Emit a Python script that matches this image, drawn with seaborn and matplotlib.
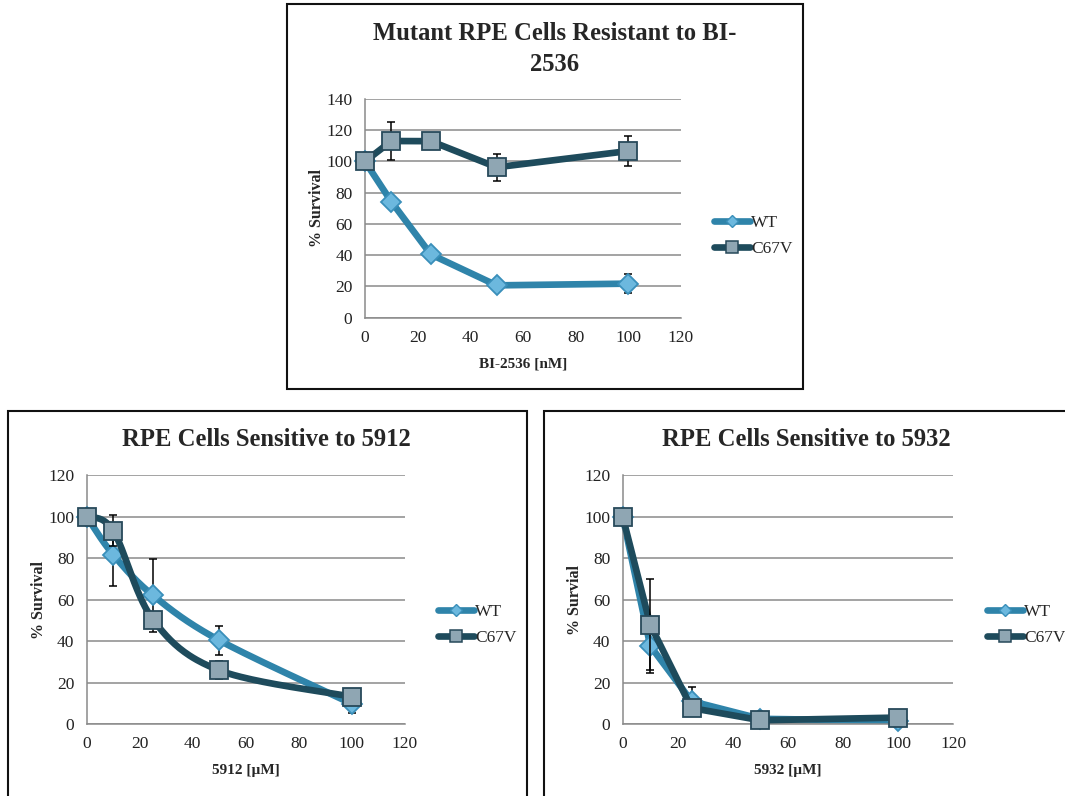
import numpy as np
import pandas as pd
import matplotlib
matplotlib.use("Agg")
import matplotlib.pyplot as plt
from matplotlib.patches import Rectangle
from matplotlib.lines import Line2D
import seaborn as sns

# ---- data -------------------------------------------------------------
dose = [0, 10, 25, 50, 100]

bi_wt = [100, 74.3, 40.5, 20.7, 21.8]
bi_wt_err = [0, 3.3, 1.5, 3.0, 6.0]
bi_mut = [100, 113.1, 113.0, 96.3, 106.7]
bi_mut_err = [0, 12.0, 5.0, 8.8, 9.4]

c5912_wt = [100, 81.7, 62.1, 40.4, 9.8]
c5912_wt_err = [0, 15.0, 17.5, 7.0, 4.5]
c5912_mut = [100, 93.3, 50.4, 25.9, 13.2]
c5912_mut_err = [0, 7.5, 2.0, 4.3, 1.5]

c5932_wt = [100, 37.7, 11.0, 2.5, 1.5]
c5932_wt_err = [0, 13.0, 7.0, 1.5, 1.0]
c5932_mut = [100, 47.9, 7.7, 1.8, 3.1]
c5932_mut_err = [0, 22.0, 3.5, 1.0, 1.0]

series_names = ["WT", "C67V"]

# ---- style ------------------------------------------------------------
sns.set_style("white")
plt.rcParams["font.family"] = ["Liberation Serif", "DejaVu Serif"]

W, H = 1065, 796
fig = plt.figure(figsize=(W / 100, H / 100), dpi=100)

WT_LINE = "#2f84aa"
WT_FILL = "#6cb8de"
WT_EDGE = "#3a8fba"
MUT_LINE = "#1e4b5c"
MUT_FILL = "#8fa6b3"
MUT_EDGE = "#27495a"
GRID = "#8a8a8a"
LW = 4.8


def px_axes(left, top, right, bottom):
    return fig.add_axes([left / W, 1 - bottom / H, (right - left) / W, (bottom - top) / H])


def frame(left, top, right, bottom):
    fig.patches.append(Rectangle((left / W, 1 - bottom / H), (right - left) / W,
                                 (bottom - top) / H, transform=fig.transFigure,
                                 fill=False, edgecolor="#111111", linewidth=1.5))


def smooth(x, y, n=40):
    """Cubic Bezier (Catmull-Rom style) path through the points."""
    p = np.column_stack([x, y]).astype(float)
    ext = np.vstack([p[0], p, p[-1]])
    out = []
    t = np.linspace(0, 1, n)[:, None]
    for i in range(1, len(ext) - 2):
        p0, p1, p2, p3 = ext[i - 1], ext[i], ext[i + 1], ext[i + 2]
        c1 = p1 + (p2 - p0) / 6
        c2 = p2 - (p3 - p1) / 6
        seg = ((1 - t) ** 3) * p1 + 3 * ((1 - t) ** 2) * t * c1 + 3 * (1 - t) * t ** 2 * c2 + t ** 3 * p2
        out.append(seg if i == 1 else seg[1:])
    c = np.vstack(out)
    return c[:, 0], c[:, 1]


def panel(ax, wt, wt_err, mut, mut_err, ymax, xlabel, ylabel, smoothed=False):
    for vals, err, lc, fc, ec, mk, ms, z in [
        (wt, wt_err, WT_LINE, WT_FILL, WT_EDGE, "D", 10.5, 2),
        (mut, mut_err, MUT_LINE, MUT_FILL, MUT_EDGE, "s", 13, 4),
    ]:
        if smoothed:
            sx, sy = smooth(dose, vals)
        else:
            sx, sy = np.array(dose, float), np.array(vals, float)
        df = pd.DataFrame({"x": sx, "y": sy})
        sns.lineplot(data=df, x="x", y="y", ax=ax, color=lc, linewidth=LW,
                     sort=False, estimator=None, zorder=z, solid_capstyle="round")
        eb = ax.errorbar(dose, vals, yerr=err, fmt="none", ecolor="black",
                         elinewidth=1.1, capsize=3.2, capthick=1.1, zorder=z + 0.5)
        for art in eb.get_children():
            art.set_clip_on(False)
        ax.plot(dose, vals, linestyle="none", marker=mk, markersize=ms,
                markerfacecolor=fc, markeredgecolor=ec, markeredgewidth=1.3,
                zorder=z + 1, clip_on=False)
    for ln in ax.lines:
        ln.set_clip_on(False)

    ax.set_xlim(0, 120)
    ax.set_ylim(0, ymax)
    ax.set_xticks(np.arange(0, 121, 20))
    ax.set_yticks(np.arange(0, ymax + 1, 20))
    ax.yaxis.grid(True, color=GRID, linewidth=1.1)
    ax.xaxis.grid(False)
    ax.set_axisbelow(True)
    for s in ["top", "right"]:
        ax.spines[s].set_visible(False)
    for s in ["left", "bottom"]:
        ax.spines[s].set_color(GRID)
        ax.spines[s].set_linewidth(1.1)
    ax.tick_params(axis="both", which="major", direction="out", length=5,
                   width=1.1, color=GRID, labelsize=12.5, pad=4, labelcolor="#222222")
    ax.set_xlabel(xlabel, fontsize=11, fontweight="bold", labelpad=8)
    ax.set_ylabel(ylabel, fontsize=11.5, fontweight="bold", labelpad=1)
    ax.set_facecolor("none")


def legend(ax, x_px, y_px):
    handles = [
        Line2D([], [], color=WT_LINE, linewidth=LW, marker="D", markersize=6.5,
               markerfacecolor=WT_FILL, markeredgecolor=WT_EDGE, markeredgewidth=1),
        Line2D([], [], color=MUT_LINE, linewidth=LW, marker="s", markersize=9,
               markerfacecolor=MUT_FILL, markeredgecolor=MUT_EDGE, markeredgewidth=1.1),
    ]
    return ax.legend(handles, series_names, loc="center left",
                     bbox_to_anchor=(x_px / W, 1 - y_px / H),
                     bbox_transform=fig.transFigure, frameon=False, fontsize=12.5,
                     handlelength=2.1, handletextpad=0.05, labelspacing=0.55,
                     borderaxespad=0, borderpad=0)


# ---- panel frames -----------------------------------------------------
frame(287, 4, 803, 389)
frame(8, 411, 527, 820)
frame(544, 411, 1080, 820)

TITLE_FS = 17.7

# ---- top panel: BI-2536 ----------------------------------------------
ax1 = px_axes(365, 99, 681, 317.7)
panel(ax1, bi_wt, bi_wt_err, bi_mut, bi_mut_err, 140, "BI-2536 [nM]", "% Survival")
fig.text(555 / W, 1 - 49 / H, "Mutant RPE Cells Resistant to BI-\n2536", ha="center",
         va="center", fontsize=TITLE_FS, fontweight="bold", linespacing=1.4)
legend(ax1, 714, 236)

# ---- bottom left: 5912 -----------------------------------------------
ax2 = px_axes(86.7, 475.3, 404.7, 724)
panel(ax2, c5912_wt, c5912_wt_err, c5912_mut, c5912_mut_err, 120, "5912 [µM]",
      "% Survival", smoothed=True)
fig.text(266 / W, 1 - 440 / H, "RPE Cells Sensitive to 5912", ha="center",
         va="center", fontsize=TITLE_FS, fontweight="bold")
legend(ax2, 438, 625)

# ---- bottom right: 5932 ----------------------------------------------
ax3 = px_axes(622.7, 475.3, 953.3, 724)
panel(ax3, c5932_wt, c5932_wt_err, c5932_mut, c5932_mut_err, 120, "5932 [µM]",
      "% Survial")
fig.text(806 / W, 1 - 440 / H, "RPE Cells Sensitive to 5932", ha="center",
         va="center", fontsize=TITLE_FS, fontweight="bold")
legend(ax3, 987, 625)

fig.savefig("out.png", dpi=100, facecolor="white")
